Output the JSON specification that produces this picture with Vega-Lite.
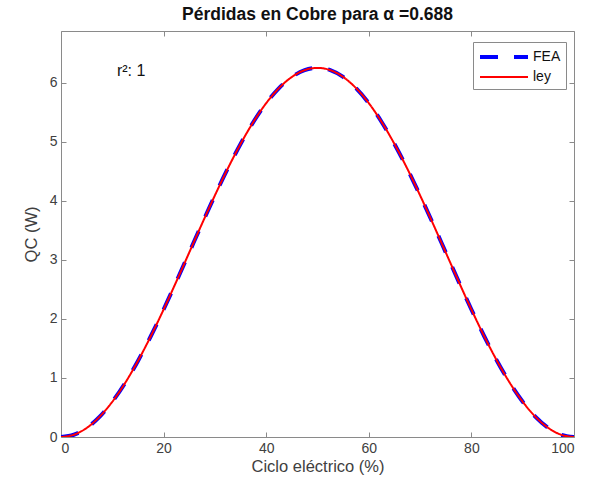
{
  "$schema": "https://vega.github.io/schema/vega-lite/v6.json",
  "width": 513,
  "height": 406,
  "autosize": {"type": "none"},
  "padding": {"left": 61, "top": 31, "right": 18, "bottom": 55},
  "background": "white",
  "config": {
    "font": "Liberation Sans",
    "view": {"stroke": "#8a8a8a", "strokeWidth": 1},
    "axis": {"grid": false, "domain": false, "labelColor": "#404040", "titleColor": "#404040", "tickColor": "#8a8a8a", "labelFontSize": 14, "titleFontSize": 16.5, "titleFontWeight": "normal", "labelFont": "Liberation Sans", "titleFont": "Liberation Sans"}
  },
  "title": {"text": "Pérdidas en Cobre para α =0.688", "fontSize": 17.5, "fontWeight": "bold", "color": "#111", "offset": 7, "font": "Liberation Sans"},
  "datasets": {
    "curves": [
      {"x": 0, "y": 0, "serie": "FEA"},
      {"x": 2.5, "y": 0.038, "serie": "FEA"},
      {"x": 5, "y": 0.153, "serie": "FEA"},
      {"x": 7.5, "y": 0.341, "serie": "FEA"},
      {"x": 10, "y": 0.597, "serie": "FEA"},
      {"x": 12.5, "y": 0.915, "serie": "FEA"},
      {"x": 15, "y": 1.288, "serie": "FEA"},
      {"x": 17.5, "y": 1.706, "serie": "FEA"},
      {"x": 20, "y": 2.159, "serie": "FEA"},
      {"x": 22.5, "y": 2.636, "serie": "FEA"},
      {"x": 25, "y": 3.125, "serie": "FEA"},
      {"x": 27.5, "y": 3.614, "serie": "FEA"},
      {"x": 30, "y": 4.091, "serie": "FEA"},
      {"x": 32.5, "y": 4.544, "serie": "FEA"},
      {"x": 35, "y": 4.962, "serie": "FEA"},
      {"x": 37.5, "y": 5.335, "serie": "FEA"},
      {"x": 40, "y": 5.653, "serie": "FEA"},
      {"x": 42.5, "y": 5.909, "serie": "FEA"},
      {"x": 45, "y": 6.097, "serie": "FEA"},
      {"x": 47.5, "y": 6.212, "serie": "FEA"},
      {"x": 50, "y": 6.25, "serie": "FEA"},
      {"x": 52.5, "y": 6.212, "serie": "FEA"},
      {"x": 55, "y": 6.097, "serie": "FEA"},
      {"x": 57.5, "y": 5.909, "serie": "FEA"},
      {"x": 60, "y": 5.653, "serie": "FEA"},
      {"x": 62.5, "y": 5.335, "serie": "FEA"},
      {"x": 65, "y": 4.962, "serie": "FEA"},
      {"x": 67.5, "y": 4.544, "serie": "FEA"},
      {"x": 70, "y": 4.091, "serie": "FEA"},
      {"x": 72.5, "y": 3.614, "serie": "FEA"},
      {"x": 75, "y": 3.125, "serie": "FEA"},
      {"x": 77.5, "y": 2.636, "serie": "FEA"},
      {"x": 80, "y": 2.159, "serie": "FEA"},
      {"x": 82.5, "y": 1.706, "serie": "FEA"},
      {"x": 85, "y": 1.288, "serie": "FEA"},
      {"x": 87.5, "y": 0.915, "serie": "FEA"},
      {"x": 90, "y": 0.597, "serie": "FEA"},
      {"x": 92.5, "y": 0.341, "serie": "FEA"},
      {"x": 95, "y": 0.153, "serie": "FEA"},
      {"x": 97.5, "y": 0.038, "serie": "FEA"},
      {"x": 100, "y": 0, "serie": "FEA"},
      {"x": 0, "y": 0, "serie": "ley"},
      {"x": 2.5, "y": 0.038, "serie": "ley"},
      {"x": 5, "y": 0.153, "serie": "ley"},
      {"x": 7.5, "y": 0.341, "serie": "ley"},
      {"x": 10, "y": 0.597, "serie": "ley"},
      {"x": 12.5, "y": 0.915, "serie": "ley"},
      {"x": 15, "y": 1.288, "serie": "ley"},
      {"x": 17.5, "y": 1.706, "serie": "ley"},
      {"x": 20, "y": 2.159, "serie": "ley"},
      {"x": 22.5, "y": 2.636, "serie": "ley"},
      {"x": 25, "y": 3.125, "serie": "ley"},
      {"x": 27.5, "y": 3.614, "serie": "ley"},
      {"x": 30, "y": 4.091, "serie": "ley"},
      {"x": 32.5, "y": 4.544, "serie": "ley"},
      {"x": 35, "y": 4.962, "serie": "ley"},
      {"x": 37.5, "y": 5.335, "serie": "ley"},
      {"x": 40, "y": 5.653, "serie": "ley"},
      {"x": 42.5, "y": 5.909, "serie": "ley"},
      {"x": 45, "y": 6.097, "serie": "ley"},
      {"x": 47.5, "y": 6.212, "serie": "ley"},
      {"x": 50, "y": 6.25, "serie": "ley"},
      {"x": 52.5, "y": 6.212, "serie": "ley"},
      {"x": 55, "y": 6.097, "serie": "ley"},
      {"x": 57.5, "y": 5.909, "serie": "ley"},
      {"x": 60, "y": 5.653, "serie": "ley"},
      {"x": 62.5, "y": 5.335, "serie": "ley"},
      {"x": 65, "y": 4.962, "serie": "ley"},
      {"x": 67.5, "y": 4.544, "serie": "ley"},
      {"x": 70, "y": 4.091, "serie": "ley"},
      {"x": 72.5, "y": 3.614, "serie": "ley"},
      {"x": 75, "y": 3.125, "serie": "ley"},
      {"x": 77.5, "y": 2.636, "serie": "ley"},
      {"x": 80, "y": 2.159, "serie": "ley"},
      {"x": 82.5, "y": 1.706, "serie": "ley"},
      {"x": 85, "y": 1.288, "serie": "ley"},
      {"x": 87.5, "y": 0.915, "serie": "ley"},
      {"x": 90, "y": 0.597, "serie": "ley"},
      {"x": 92.5, "y": 0.341, "serie": "ley"},
      {"x": 95, "y": 0.153, "serie": "ley"},
      {"x": 97.5, "y": 0.038, "serie": "ley"},
      {"x": 100, "y": 0, "serie": "ley"}
    ],
    "notes": [{"x": 10.9, "y": 6.2, "label": "r²: 1"}]
  },
  "layer": [
    {
      "data": {"name": "curves"},
      "mark": {"type": "line", "interpolate": "monotone", "clip": true},
      "encoding": {
        "x": {"field": "x", "type": "quantitative", "scale": {"domain": [0, 100], "nice": false, "zero": false},
              "axis": {"orient": "bottom", "title": "Ciclo eléctrico (%)", "values": [0, 20, 40, 60, 80, 100], "tickSize": -5, "labelPadding": 9, "titlePadding": 3}},
        "y": {"field": "y", "type": "quantitative", "scale": {"domain": [0, 6.875], "nice": false},
              "axis": {"orient": "left", "title": "QC (W)", "values": [0, 1, 2, 3, 4, 5, 6], "tickSize": -5, "labelPadding": 9, "titlePadding": 10}},
        "color": {"field": "serie", "type": "nominal", "scale": {"domain": ["FEA", "ley"], "range": ["#0000ff", "#ff0000"]},
                  "legend": {"title": null, "orient": "none", "legendX": 412, "legendY": 11, "symbolType": "M-3,0H3", "symbolSize": 256, "symbolOffset": 16, "labelFontSize": 14, "labelColor": "#111", "strokeColor": "#8a8a8a", "fillColor": "white", "padding": 5, "rowPadding": 3, "labelOffset": 19, "symbolStrokeWidth": 3.5}},
        "strokeDash": {"field": "serie", "type": "nominal", "scale": {"domain": ["FEA", "ley"], "range": [[18, 16], [1, 0]]}, "legend": {"title": null}},
        "strokeWidth": {"field": "serie", "type": "nominal", "scale": {"domain": ["FEA", "ley"], "range": [4, 2]}, "legend": null}
      }
    },
    {
      "data": {"name": "notes"},
      "mark": {"type": "text", "align": "left", "baseline": "middle", "fontSize": 16, "color": "#111", "font": "Liberation Sans"},
      "encoding": {
        "x": {"field": "x", "type": "quantitative", "scale": {"domain": [0, 100], "nice": false, "zero": false},
              "axis": {"orient": "top", "title": null, "labels": false, "values": [0, 20, 40, 60, 80, 100], "tickSize": -5}},
        "y": {"field": "y", "type": "quantitative", "scale": {"domain": [0, 6.875], "nice": false},
              "axis": {"orient": "right", "title": null, "labels": false, "values": [0, 1, 2, 3, 4, 5, 6], "tickSize": -5}},
        "text": {"field": "label"}
      }
    }
  ],
  "resolve": {"scale": {"x": "independent", "y": "independent"}}
}
